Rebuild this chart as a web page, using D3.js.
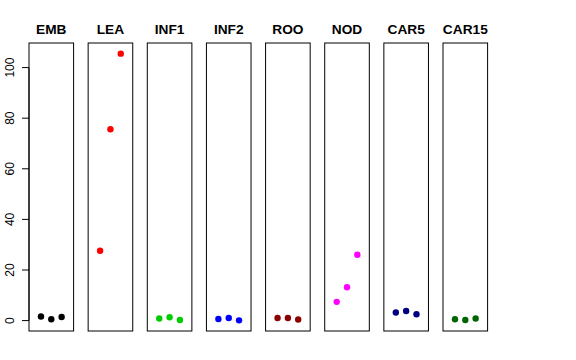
<!DOCTYPE html>
<html><head><meta charset="utf-8">
<script src="https://cdn.jsdelivr.net/npm/d3@7"></script>
<style>body{margin:0;background:#fff}</style>
</head><body>
<script>
const categories = ["EMB","LEA","INF1","INF2","ROO","NOD","CAR5","CAR15"];
const colors = ["#000000","#FF0000","#00CD00","#0000FF","#8B0000","#FF00FF","#000080","#006400"];
const rep1 = [1.6, 27.6, 0.8, 0.6, 1.0, 7.4, 3.2, 0.5];
const rep2 = [0.5, 75.6, 1.3, 1.0, 1.0, 13.2, 3.8, 0.25];
const rep3 = [1.4, 105.5, 0.25, 0.1, 0.4, 26.0, 2.5, 0.8];
const yTicks = [0, 20, 40, 60, 80, 100];

(function () {
const W = 576, H = 360;
const svg = d3.select("body").append("svg").attr("width", W).attr("height", H);

const plotTop = 43, plotBottom = 331;
const band = d3.scaleBand().domain(categories).range([29, 487.6]).paddingInner(0.246).paddingOuter(0);
const allVals = rep1.concat(rep2, rep3);
const ymin = d3.min(allVals), ymax = d3.max(allVals);
const ext = (ymax - ymin) * 0.04;
const y = d3.scaleLinear().domain([ymin - ext, ymax + ext]).range([plotBottom, plotTop]);
const xIn = d3.scaleLinear().domain([-0.16, 4.16]).range([0, band.bandwidth()]);

categories.forEach((c, i) => {
  const g = svg.append("g").attr("transform", `translate(${band(c)},0)`);
  g.append("rect").attr("x", 0).attr("y", plotTop).attr("width", band.bandwidth()).attr("height", plotBottom - plotTop)
    .attr("fill", "none").attr("stroke", "#000").attr("stroke-width", 1);
  g.append("text").attr("x", band.bandwidth() / 2).attr("y", 34).attr("text-anchor", "middle")
    .attr("font-family", "Liberation Sans, Arial, sans-serif").attr("font-weight", "bold").attr("font-size", 13.7)
    .text(c);
  const vals = [rep1[i], rep2[i], rep3[i]];
  g.selectAll("circle").data(vals).join("circle")
    .attr("cx", (d, j) => xIn(j + 1)).attr("cy", d => y(d)).attr("r", 3.2)
    .attr("fill", colors[i]);
});

const ax = svg.append("g").attr("transform", `translate(${band(categories[0])},0)`);
ax.append("line").attr("x1", 0).attr("x2", 0).attr("y1", y(0)).attr("y2", y(100)).attr("stroke", "#000");
yTicks.forEach(t => {
  ax.append("line").attr("x1", -7).attr("x2", 0).attr("y1", y(t)).attr("y2", y(t)).attr("stroke", "#000");
  ax.append("text").attr("transform", `translate(-15.5,${y(t)}) rotate(-90)`)
    .attr("text-anchor", "middle").attr("font-family", "Liberation Sans, Arial, sans-serif")
    .attr("font-size", 12).attr("fill", "#000").text(t);
});
})();
</script>
</body></html>
